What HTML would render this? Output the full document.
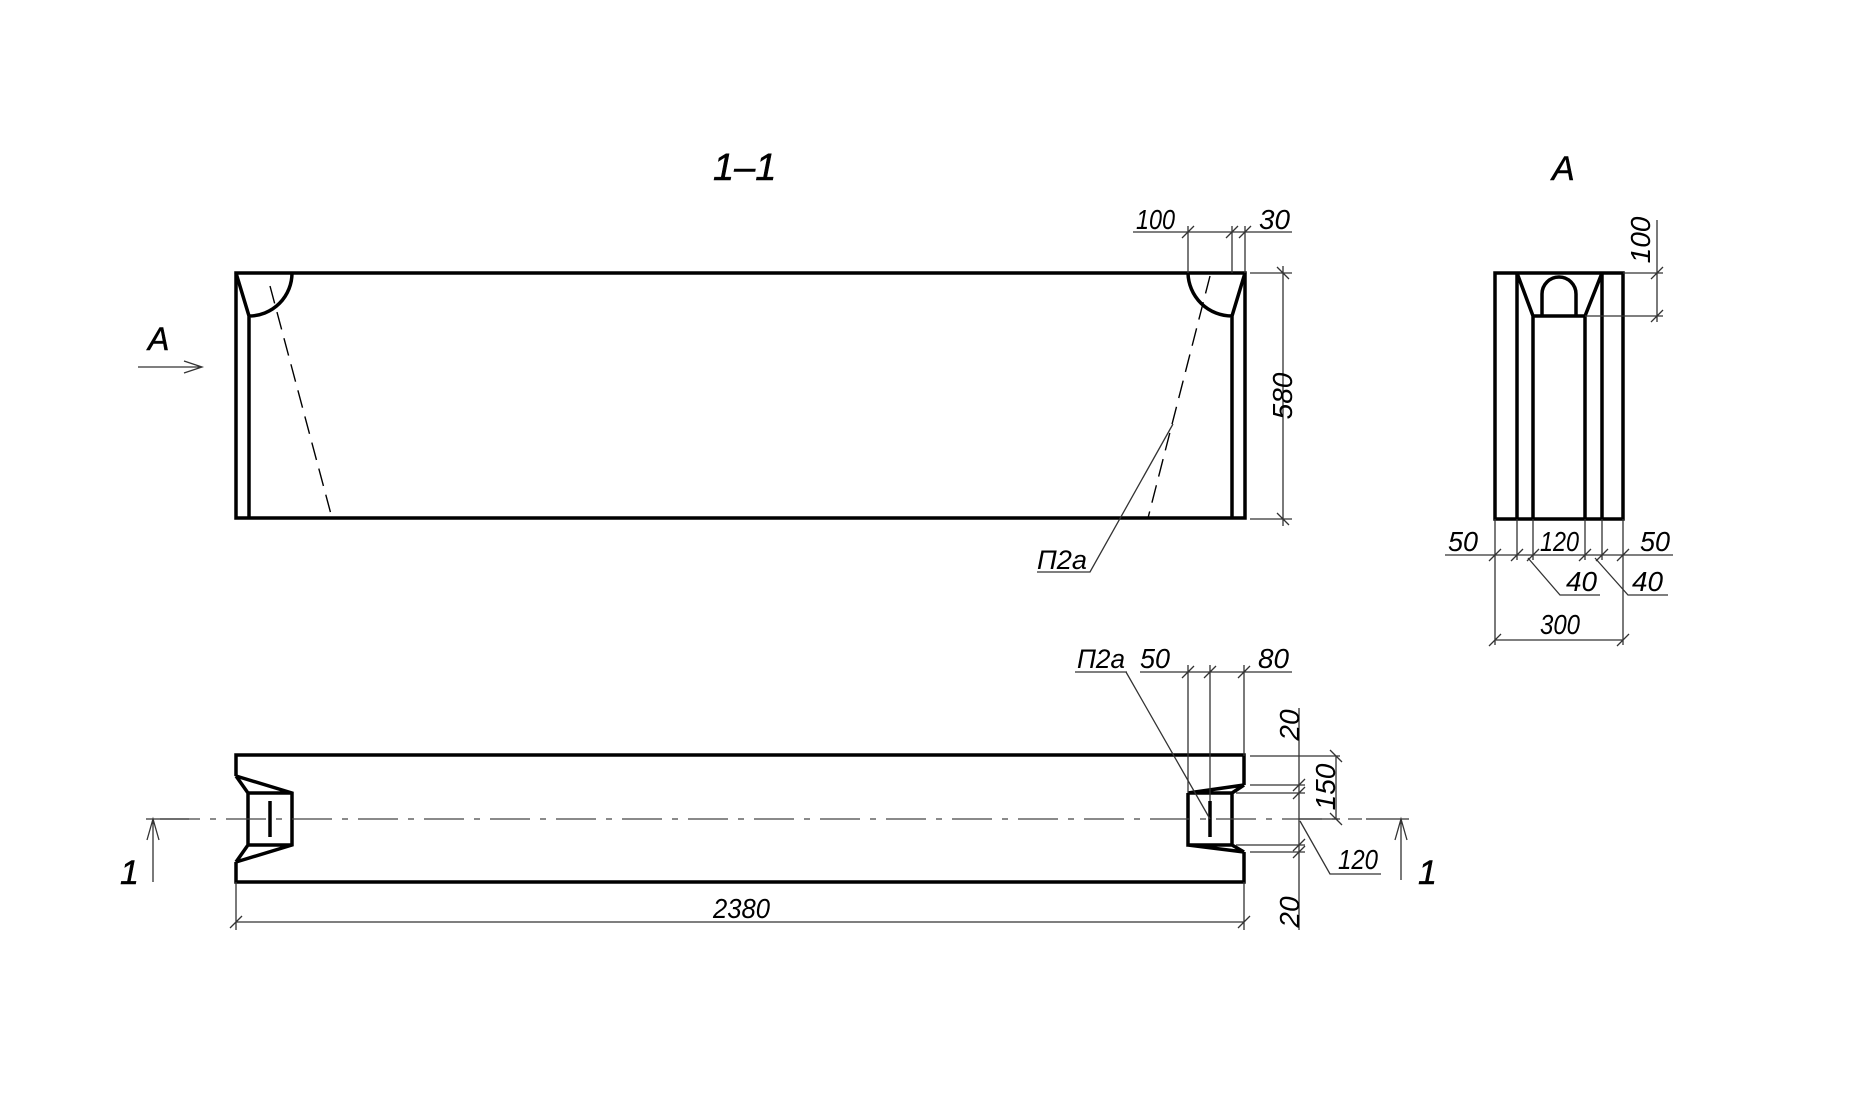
<!DOCTYPE html>
<html><head><meta charset="utf-8"><style>
html,body{margin:0;padding:0;background:#fff;width:1860px;height:1120px;overflow:hidden}
svg{display:block}
text{font-family:"Liberation Sans",sans-serif;font-style:italic;fill:#000}
.b{stroke:#000;stroke-width:0.5}
.k{stroke:#000;stroke-width:3.5;fill:none;stroke-linejoin:miter}
.t{stroke:#333;stroke-width:1.3;fill:none}
.d{stroke:#000;stroke-width:1.4;fill:none;stroke-dasharray:18 9}
.c{stroke:#444;stroke-width:1.3;fill:none;stroke-dasharray:40 10 6 10}
</style></head><body>
<svg width="1860" height="1120" viewBox="0 0 1860 1120" xmlns="http://www.w3.org/2000/svg">
<text x="713" y="180" font-size="38" class="b">1–1</text>
<text x="1552" y="180" font-size="34" class="b">A</text>

<text x="148" y="350" font-size="32" class="b">A</text>
<path class="t" d="M138 367 H202 M184 361 L202 367 L184 373"/>

<rect class="k" x="236" y="273" width="1009" height="245"/>
<path class="k" d="M249 518 V316 M236 273 L249 316 M249 316 A43 43 0 0 0 292 273"/>
<path class="k" d="M1232 518 V316 M1245 273 L1232 316 M1232 316 A44 44 0 0 1 1188 273"/>
<path class="d" d="M270 286 L332 518"/>
<path class="d" d="M1210 276 L1148 518"/>
<path class="t" d="M1173 424 L1090 572 H1037"/>
<text x="1037" y="569" font-size="27" textLength="50" lengthAdjust="spacingAndGlyphs">П2а</text>

<path class="t" d="M1188 226 V273 M1232 226 V273 M1245 226 V273 M1133 232 H1292"/>
<path class="t" d="M1182 238 L1194 226 M1226 238 L1238 226 M1239 238 L1251 226"/>
<text x="1136" y="229" font-size="28" textLength="39" lengthAdjust="spacingAndGlyphs">100</text>
<text x="1259" y="229" font-size="28" textLength="31" lengthAdjust="spacingAndGlyphs">30</text>
<path class="t" d="M1250 273 H1292 M1250 519 H1292 M1283 266 V526 M1277 267 L1289 279 M1277 513 L1289 525"/>
<text transform="translate(1292 396) rotate(-90)" font-size="28" text-anchor="middle">580</text>

<rect class="k" x="1495" y="273" width="128" height="246"/>
<path class="k" d="M1517 273 V519 M1533 316 V519 M1585 316 V519 M1602 273 V519 M1517 273 L1533 316 M1602 273 L1585 316 M1533 316 H1585 M1542 316 V294 A17 17 0 0 1 1576 294 V316"/>
<path class="t" d="M1623 273 H1663 M1585 316 H1663 M1657 220 V322 M1651 279 L1663 267 M1651 322 L1663 310"/>
<text transform="translate(1650 240) rotate(-90)" font-size="28" text-anchor="middle">100</text>
<path class="t" d="M1495 519 V645 M1517 519 V560 M1533 519 V560 M1585 519 V560 M1602 519 V560 M1623 519 V645 M1445 555 H1673"/>
<path class="t" d="M1489 561 L1501 549 M1511 561 L1523 549 M1527 561 L1539 549 M1579 561 L1591 549 M1596 561 L1608 549 M1617 561 L1629 549"/>
<text x="1448" y="551" font-size="28" textLength="30" lengthAdjust="spacingAndGlyphs">50</text>
<text x="1540" y="551" font-size="28" textLength="39" lengthAdjust="spacingAndGlyphs">120</text>
<text x="1640" y="551" font-size="28" textLength="30" lengthAdjust="spacingAndGlyphs">50</text>
<path class="t" d="M1528 558 L1560 595 H1600 M1595 558 L1628 595 H1668"/>
<text x="1566" y="591" font-size="28" textLength="31" lengthAdjust="spacingAndGlyphs">40</text>
<text x="1632" y="591" font-size="28" textLength="31" lengthAdjust="spacingAndGlyphs">40</text>
<path class="t" d="M1495 640 H1623 M1489 646 L1501 634 M1617 646 L1629 634"/>
<text x="1540" y="634" font-size="28" textLength="40" lengthAdjust="spacingAndGlyphs">300</text>

<path class="k" d="M236 776 V755 H1244 V785 M1244 852 V882 H236 V862"/>
<path class="k" d="M236 776 L248 793 V845 L236 862 M236 776 L292 793 V845 L236 862 M248 793 H292 M248 845 H292"/>
<path class="k" d="M270 801 V837"/>
<path class="k" d="M1244 785 L1232 793 M1188 793 L1244 785 M1188 793 H1232 V845 M1188 793 V845 H1232 M1188 845 L1244 852 M1232 845 L1244 852"/>
<path class="k" d="M1210 801 V837"/>
<path class="c" d="M160 819 H1362"/>

<path class="t" d="M146 819 H189 M153 882 V819 M147 840 L153 819 L159 840"/>
<text x="120" y="884" font-size="34" class="b">1</text>
<path class="t" d="M1366 819 H1409 M1401 880 V819 M1395 840 L1401 819 L1407 840"/>
<text x="1418" y="884" font-size="34" class="b">1</text>

<path class="t" d="M236 882 V930 M1244 882 V930 M236 922 H1244 M230 928 L242 916 M1238 928 L1250 916"/>
<text x="713" y="918" font-size="28" textLength="57" lengthAdjust="spacingAndGlyphs">2380</text>

<path class="t" d="M1188 665 V793 M1210 665 V801 M1244 665 V756 M1140 672 H1292 M1182 678 L1194 666 M1204 678 L1216 666 M1238 678 L1250 666"/>
<text x="1140" y="668" font-size="28" textLength="30" lengthAdjust="spacingAndGlyphs">50</text>
<text x="1258" y="668" font-size="28" textLength="31" lengthAdjust="spacingAndGlyphs">80</text>
<path class="t" d="M1126 672 L1210 819 M1075 672 H1127"/>
<text x="1077" y="668" font-size="27" textLength="48" lengthAdjust="spacingAndGlyphs">П2а</text>

<path class="t" d="M1250 756 H1340 M1250 785 H1305 M1236 793 H1305 M1236 845 H1305 M1250 852 H1305 M1299 819 H1340 M1299 708 V930 M1336 756 V819"/>
<path class="t" d="M1293 791 L1305 779 M1293 799 L1305 787 M1293 851 L1305 839 M1293 858 L1305 846 M1330 750 L1342 762 M1330 813 L1342 825"/>
<text transform="translate(1299 725) rotate(-90)" font-size="28" text-anchor="middle">20</text>
<text transform="translate(1335 787) rotate(-90)" font-size="28" text-anchor="middle">150</text>
<text transform="translate(1299 912) rotate(-90)" font-size="28" text-anchor="middle">20</text>
<path class="t" d="M1300 821 L1330 874 H1381"/>
<text x="1338" y="869" font-size="28" textLength="40" lengthAdjust="spacingAndGlyphs">120</text>
</svg>
</body></html>
